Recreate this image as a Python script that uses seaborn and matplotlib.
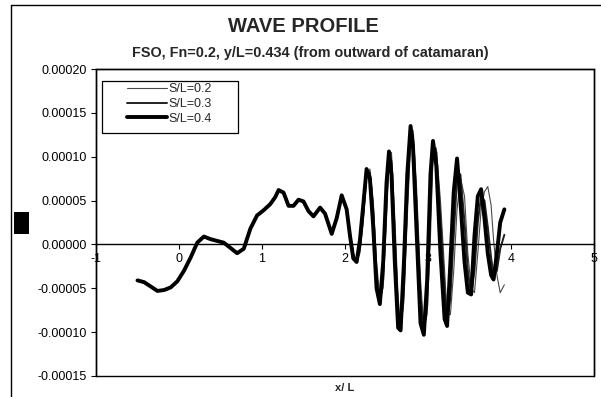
import numpy as np
import pandas as pd
import matplotlib
matplotlib.use("Agg")
import matplotlib.pyplot as plt
from matplotlib.patches import Rectangle
from matplotlib.lines import Line2D
import seaborn as sns

# ---------------- data ----------------
title = "WAVE PROFILE"
subtitle = "FSO, Fn=0.2, y/L=0.434 (from outward of catamaran)"
xlabel = "x/ L"
series_names = ["S/L=0.2", "S/L=0.3", "S/L=0.4"]

x_vals = [-0.50, -0.42, -0.34, -0.26, -0.18, -0.10, -0.02, 0.06, 0.14, 0.22,
          0.30, 0.38, 0.46, 0.54, 0.62, 0.70, 0.78, 0.86, 0.94, 1.02,
          1.10, 1.16, 1.20, 1.26, 1.32, 1.38, 1.44, 1.50, 1.56, 1.62,
          1.70, 1.76, 1.84, 1.90, 1.96, 2.02, 2.06,
          2.10, 2.14, 2.18, 2.22, 2.26, 2.30, 2.34, 2.38, 2.42, 2.46,
          2.50, 2.53, 2.56, 2.60, 2.64, 2.67, 2.71, 2.75, 2.79, 2.82,
          2.86, 2.91, 2.95, 2.99, 3.03, 3.06, 3.10, 3.15, 3.20, 3.23,
          3.27, 3.31, 3.35, 3.39, 3.44, 3.48, 3.52, 3.56, 3.60, 3.64,
          3.68, 3.72, 3.76, 3.79, 3.83, 3.87, 3.92]

# wave heights in units of 1e-5
y_s02 = [-4.1, -4.3, -4.8, -5.2, -5.2, -4.9, -4.2, -3.0, -1.6, 0.1,
         0.9, 0.7, 0.4, 0.2, -0.3, -1.0, -0.6, 1.7, 3.2, 3.9,
         4.6, 5.3, 6.1, 5.9, 4.5, 4.4, 5.1, 4.9, 3.9, 3.2,
         4.2, 3.6, 1.3, 2.9, 5.5, 4.2, 1.5,
         -1.0, -2.0, -1.0, 2.5, 7.5, 8.6, 5.0, -2.0, -6.0, -5.0,
         3.0, 9.5, 10.5, 3.0, -6.0, -9.5, -6.5, 3.0, 11.5, 13.0,
         7.0, -4.0, -9.5, -8.0, 1.0, 10.0, 11.0, 5.0, -3.0, -8.0,
         -8.0, -3.0, 4.0, 7.6, 5.5, -1.0, -5.0, -5.5, -1.0, 4.0,
         6.0, 6.6, 4.5, 0.5, -3.5, -5.5, -4.6]

y_s03 = [-4.1, -4.4, -4.8, -5.3, -5.2, -4.9, -4.2, -3.0, -1.5, 0.2,
         0.9, 0.6, 0.4, 0.2, -0.4, -1.0, -0.5, 1.8, 3.3, 3.9,
         4.6, 5.4, 6.2, 5.9, 4.4, 4.4, 5.1, 4.9, 3.8, 3.2,
         4.2, 3.5, 1.2, 3.0, 5.6, 4.1, 1.2,
         -1.2, -2.0, -0.5, 3.5, 8.2, 8.2, 4.0, -3.5, -6.8, -4.0,
         5.0, 10.2, 9.5, 1.0, -8.0, -9.8, -5.0, 5.0, 12.8, 12.5,
         5.0, -6.0, -10.0, -7.0, 4.0, 11.0, 10.5, 3.0, -5.0, -9.0,
         -6.0, 1.0, 7.5, 8.0, 2.5, -3.0, -5.8, -3.0, 2.5, 5.5,
         5.0, 2.0, -1.5, -3.5, -3.0, -0.5, 1.1]

y_s04 = [-4.1, -4.3, -4.8, -5.3, -5.2, -4.9, -4.2, -3.0, -1.5, 0.2,
         0.9, 0.6, 0.4, 0.2, -0.4, -1.0, -0.5, 1.8, 3.3, 3.9,
         4.6, 5.4, 6.2, 5.9, 4.4, 4.4, 5.1, 4.9, 3.8, 3.2,
         4.2, 3.5, 1.2, 3.0, 5.6, 4.0, 1.0,
         -1.6, -2.0, 0.5, 4.5, 8.6, 7.5, 2.0, -5.0, -6.8, -2.0,
         7.0, 10.6, 8.0, -2.0, -9.5, -9.8, -2.0, 8.0, 13.5, 11.0,
         2.0, -9.0, -10.3, -4.0, 8.0, 11.8, 9.0, -1.0, -8.5, -9.3,
         -2.0, 6.0, 9.8, 5.0, -2.0, -5.5, -5.7, 1.0, 5.5, 6.3,
         3.0, -1.0, -3.5, -4.0, -1.0, 2.5, 4.0]

x_ticks = [-1, 0, 1, 2, 3, 4, 5]
y_ticks = [-0.00015, -0.00010, -0.00005, 0.0, 0.00005, 0.00010, 0.00015, 0.00020]

# ---------------- style ----------------
sns.set_style("white")
plt.rcParams["font.family"] = ["Liberation Sans", "DejaVu Sans"]
plt.rcParams["axes.unicode_minus"] = False

W, H = 601, 397
fig = plt.figure(figsize=(W / 100, H / 100), dpi=100)
fig.patch.set_facecolor("white")

def fx(px):
    return px / W

def fy(py):
    return 1 - py / H

ax = fig.add_axes([fx(96), fy(376), fx(594) - fx(96), fy(69) - fy(376)])
ax.set_facecolor("white")

frames = []
for name, ys in zip(series_names, [y_s02, y_s03, y_s04]):
    frames.append(pd.DataFrame({"x": x_vals, "y": np.array(ys) * 1e-5, "series": name}))
df = pd.concat(frames, ignore_index=True)

styles = {
    "S/L=0.2": dict(color="#4a4a4a", lw=0.8),
    "S/L=0.3": dict(color="#222222", lw=1.4),
    "S/L=0.4": dict(color="#000000", lw=2.8),
}
for name in series_names:
    sub = df[df["series"] == name]
    sns.lineplot(data=sub, x="x", y="y", ax=ax, sort=False, estimator=None,
                 label=name, color=styles[name]["color"], linewidth=styles[name]["lw"])

ax.set_xlim(-1, 5)
ax.set_ylim(-0.00015, 0.00020)
ax.set_xticks(x_ticks)
ax.set_xticklabels([str(t) for t in x_ticks])
ax.set_yticks(y_ticks)
ax.set_yticklabels([f"{v:.5f}" for v in y_ticks])
ax.set_xlabel("")
ax.set_ylabel("")

for s in ["top", "right", "left"]:
    ax.spines[s].set_visible(True)
    ax.spines[s].set_color("black")
    ax.spines[s].set_linewidth(1.0)
ax.spines["bottom"].set_position(("data", 0))
ax.spines["bottom"].set_color("black")
ax.spines["bottom"].set_linewidth(1.0)
ax.add_patch(Rectangle((0, 0), 1, 1, transform=ax.transAxes, fill=False,
                       edgecolor="black", lw=1.0, clip_on=False, zorder=3))

ax.tick_params(axis="both", which="both", direction="out", length=3.5, width=0.8,
               color="black", labelsize=9, labelcolor="black")
ax.tick_params(axis="x", pad=2.5, bottom=True)
ax.tick_params(axis="y", pad=3, left=True)
ax.set_axisbelow(True)

# legend
handles, labels = ax.get_legend_handles_labels()
leg = ax.legend(handles, labels, loc="upper left",
                bbox_to_anchor=(fx(127), fy(83.5)), bbox_transform=fig.transFigure,
                frameon=False, fontsize=9, handlelength=3.2, handletextpad=0.12,
                labelspacing=0.2, borderpad=0, borderaxespad=0)
fig.add_artist(Rectangle((fx(102), fy(133)), fx(238) - fx(102), fy(81) - fy(133),
                         transform=fig.transFigure, fill=False, edgecolor="black", lw=0.9))

# titles
fig.text(fx(303), fy(27), title, ha="center", va="center", fontsize=14.5, fontweight="bold")
fig.text(fx(310), fy(53), subtitle, ha="center", va="center", fontsize=10.4, fontweight="bold")
fig.text(fx(345), fy(388), xlabel, ha="center", va="center", fontsize=8, fontweight="bold")

# chart outer border (left and top visible)
fig.add_artist(Line2D([fx(11), fx(11)], [fy(5), 0], transform=fig.transFigure, color="black", lw=1.0))
fig.add_artist(Line2D([fx(11), 1], [fy(5), fy(5)], transform=fig.transFigure, color="black", lw=1.0))
# black block (axis title placeholder)
fig.add_artist(Rectangle((fx(14), fy(234)), fx(29) - fx(14), fy(212) - fy(234),
                         transform=fig.transFigure, facecolor="black", edgecolor="none"))

fig.savefig("out.png", dpi=100, facecolor="white")
